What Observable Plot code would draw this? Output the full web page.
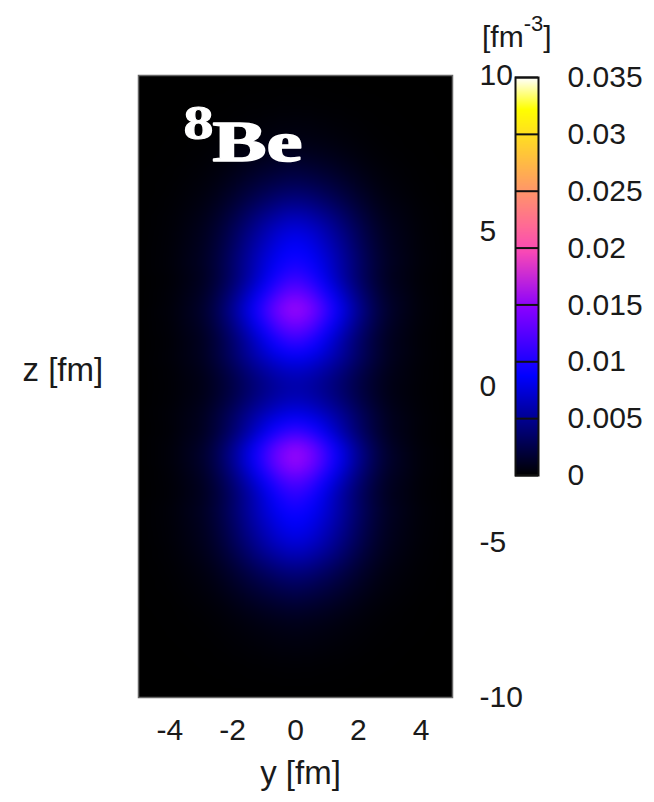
<!DOCTYPE html>
<html><head><meta charset="utf-8">
<script src="https://cdn.jsdelivr.net/npm/d3@7"></script>
<script src="https://cdn.jsdelivr.net/npm/@observablehq/plot@0.6"></script>
<style>
body{margin:0;background:#fff;}
#wrap{position:relative;width:654px;height:802px;overflow:hidden;}
#wrap svg{position:absolute;left:0;top:0;}
</style></head><body><div id="wrap"></div>
<script>
// transverse coordinate y [fm] (mirrored to negative y), longitudinal z [fm]
const yLevels = [0, 0.5, 1, 1.5, 2, 2.5, 3, 4, 5];
const zLevels = [10, 9, 8, 7.5, 7, 6.5, 6, 5.5, 5, 4.5, 4, 3.5, 3, 2.5, 2, 1.5, 1, 0.5, 0,
  -0.5, -1, -1.5, -2, -2.5, -3, -3.5, -4, -4.5, -5, -5.5, -6, -6.5, -7, -7.5, -8, -9, -10];
// density [fm^-3], one row per z level, columns = yLevels
const density = [
  [0, 0, 0, 0, 0, 0, 0, 0, 0],
  [.00015, .00014, .00011, .00009, .00006, .00003, .00002, 0, 0],
  [.0006, .00055, .00046, .00034, .00023, .00013, .00007, .00002, 0],
  [.0011, .00101, .00084, .00063, .00042, .00024, .00013, .00003, 0],
  [.0019, .00175, .00144, .00108, .00072, .00042, .00023, .00006, .00001],
  [.0030, .00276, .00228, .00171, .00114, .00066, .00036, .00009, .00001],
  [.0044, .00405, .00334, .00251, .00167, .00097, .00053, .00013, .00001],
  [.0062, .00570, .00471, .00353, .00236, .00136, .00074, .00019, .00002],
  [.0078, .00718, .00593, .00445, .00296, .00172, .00094, .00023, .00002],
  [.0088, .00810, .00669, .00502, .00334, .00194, .00106, .00026, .00003],
  [.0097, .00892, .00737, .00553, .00369, .00213, .00116, .00029, .00003],
  [.0112, .01008, .00784, .00560, .00358, .00202, .00101, .00022, 0],
  [.0135, .01215, .00945, .00675, .00432, .00243, .00122, .00027, 0],
  [.0160, .01440, .01120, .00800, .00512, .00288, .00144, .00032, 0],
  [.0140, .01260, .00980, .00700, .00448, .00252, .00126, .00028, 0],
  [.0113, .01017, .00791, .00565, .00362, .00203, .00102, .00023, 0],
  [.0088, .00818, .00686, .00528, .00352, .00211, .00106, .00026, 0],
  [.0068, .00632, .00530, .00408, .00272, .00163, .00082, .00020, 0],
  [.0058, .00539, .00452, .00348, .00232, .00139, .00070, .00017, 0],
  [.0066, .00614, .00515, .00396, .00264, .00158, .00079, .00020, 0],
  [.0086, .00800, .00671, .00516, .00344, .00206, .00103, .00026, 0],
  [.0115, .01035, .00805, .00575, .00368, .00207, .00104, .00023, 0],
  [.0155, .01395, .01085, .00775, .00496, .00279, .00140, .00031, 0],
  [.0155, .01395, .01085, .00775, .00496, .00279, .00140, .00031, 0],
  [.0127, .01143, .00889, .00635, .00406, .00229, .00114, .00025, 0],
  [.0108, .00972, .00756, .00540, .00346, .00194, .00097, .00022, 0],
  [.0095, .00874, .00722, .00542, .00361, .00209, .00114, .00029, .00003],
  [.0086, .00791, .00654, .00490, .00327, .00189, .00103, .00026, .00003],
  [.0076, .00699, .00578, .00433, .00289, .00167, .00091, .00023, .00002],
  [.0060, .00552, .00456, .00342, .00228, .00132, .00072, .00018, .00002],
  [.0042, .00386, .00319, .00239, .00160, .00092, .00050, .00013, .00001],
  [.0029, .00267, .00220, .00165, .00110, .00064, .00035, .00009, .00001],
  [.0018, .00166, .00137, .00103, .00068, .00040, .00022, .00005, .00001],
  [.0010, .00092, .00076, .00057, .00038, .00022, .00012, .00003, 0],
  [.0006, .00055, .00046, .00034, .00023, .00013, .00007, .00002, 0],
  [.00015, .00014, .00011, .00009, .00006, .00003, .00002, 0, 0],
  [0, 0, 0, 0, 0, 0, 0, 0, 0]
];
const xTicks = [-4, -2, 0, 2, 4];
const zTicks = [-10, -5, 0, 5, 10];
const cbTicks = [0, 0.005, 0.01, 0.015, 0.02, 0.025, 0.03, 0.035];
const cbMax = 0.035;
const paletteFractions = [0, 0.0625, 0.125, 0.1875, 0.25, 0.3125, 0.375, 0.42, 0.4375, 0.5,
  0.5625, 0.625, 0.6875, 0.75, 0.8125, 0.875, 0.92, 0.9375, 1];
const paletteColors = ["#000000", "#000040", "#000080", "#0000bf", "#0000ff", "#3200ff", "#6400ff",
  "#8700ff", "#9509f6", "#c729d6", "#f949b6", "#ff6996", "#ff8877", "#ffa857", "#ffc837",
  "#ffe817", "#ffff00", "#ffff38", "#ffffff"];
const nucleusMass = "8";
const nucleusSymbol = "Be";
const xLabel = "y [fm]";
const zLabel = "z [fm]";

const points = [];
zLevels.forEach((z, i) => yLevels.forEach((y, j) => {
  points.push({y, z, rho: density[i][j]});
  if (y > 0) points.push({y: -y, z, rho: density[i][j]});
}));

const colorScale = {type: "linear", domain: paletteFractions.map(f => f * cbMax),
  range: paletteColors, interpolate: "rgb", clamp: true};
const baseStyle = {background: "transparent", fontFamily: "'Liberation Sans', Arial, sans-serif",
  fontSize: "30px", color: "#1a1a1a"};
const fmt = d => String(d);
const serif = "'Liberation Serif', 'Times New Roman', serif";

const main = Plot.plot({
  width: 654, height: 802,
  marginLeft: 138, marginRight: 202, marginTop: 75, marginBottom: 105,
  style: baseStyle,
  x: {domain: [-5, 5]},
  y: {domain: [-10, 10]},
  color: colorScale,
  marks: [
    Plot.raster(points, {x: "y", y: "z", fill: "rho", interpolate: "barycentric",
      x1: -5, x2: 5, y1: -10, y2: 10, blur: 6}),
    Plot.frame({stroke: "#666", strokeWidth: 1.5}),
    Plot.axisX(xTicks, {anchor: "bottom", tickSize: 0, tickPadding: 21, tickFormat: fmt, label: null, fontSize: 30}),
    Plot.axisY(zTicks, {anchor: "right", tickSize: 0, tickPadding: 27, textAnchor: "start", tickFormat: fmt, label: null, fontSize: 30}),
    Plot.text([zLabel], {text: d => d, frameAnchor: "left", dx: -116, dy: -16, textAnchor: "start", fontSize: 33}),
    Plot.text([xLabel], {text: d => d, frameAnchor: "bottom", dx: 5, dy: 86, fontSize: 33}),
    Plot.text([nucleusMass], {text: d => d, frameAnchor: "top-left", dx: 45, dy: 29, lineAnchor: "top",
      textAnchor: "start", fill: "white", stroke: "white", strokeWidth: 1, fontFamily: serif,
      fontWeight: "bold", fontSize: 48}),
    Plot.text([nucleusSymbol], {text: d => d, frameAnchor: "top-left", dx: 74, dy: 44, lineAnchor: "top",
      textAnchor: "start", fill: "white", stroke: "white", strokeWidth: 1.5, fontFamily: serif,
      fontWeight: "bold", fontSize: 58})
  ]
});

d3.select(main).selectAll("text").each(function() {
  if (this.textContent === nucleusSymbol) d3.select(this).attr("textLength", 90).attr("lengthAdjust", "spacingAndGlyphs");
  if (this.textContent === nucleusMass) d3.select(this).attr("textLength", 30).attr("lengthAdjust", "spacingAndGlyphs");
});

const cb = Plot.plot({
  width: 654, height: 802,
  marginLeft: 515, marginRight: 116, marginTop: 77, marginBottom: 327,
  style: baseStyle,
  x: {domain: [0, 1], axis: null},
  y: {domain: [0, cbMax]},
  color: colorScale,
  marks: [
    Plot.raster({fill: (x, y) => y, x1: 0, x2: 1, y1: 0, y2: cbMax}),
    Plot.ruleY(cbTicks, {stroke: "#111", strokeWidth: 2}),
    Plot.frame({stroke: "#111", strokeWidth: 2}),
    Plot.axisY(cbTicks, {anchor: "right", tickSize: 0, tickPadding: 29, tickFormat: fmt, label: null, fontSize: 30})
  ]
});
cb.style.pointerEvents = "none";
const unit = d3.select(cb).append("text").attr("x", 482).attr("y", 47)
  .attr("text-anchor", "start").attr("font-size", 30).attr("fill", "#1a1a1a");
unit.append("tspan").text("[fm");
unit.append("tspan").attr("dy", -16).attr("font-size", 22).text("-3");
unit.append("tspan").attr("dy", 16).text("]");

const wrap = document.getElementById("wrap");
wrap.appendChild(main);
wrap.appendChild(cb);
</script></body></html>
